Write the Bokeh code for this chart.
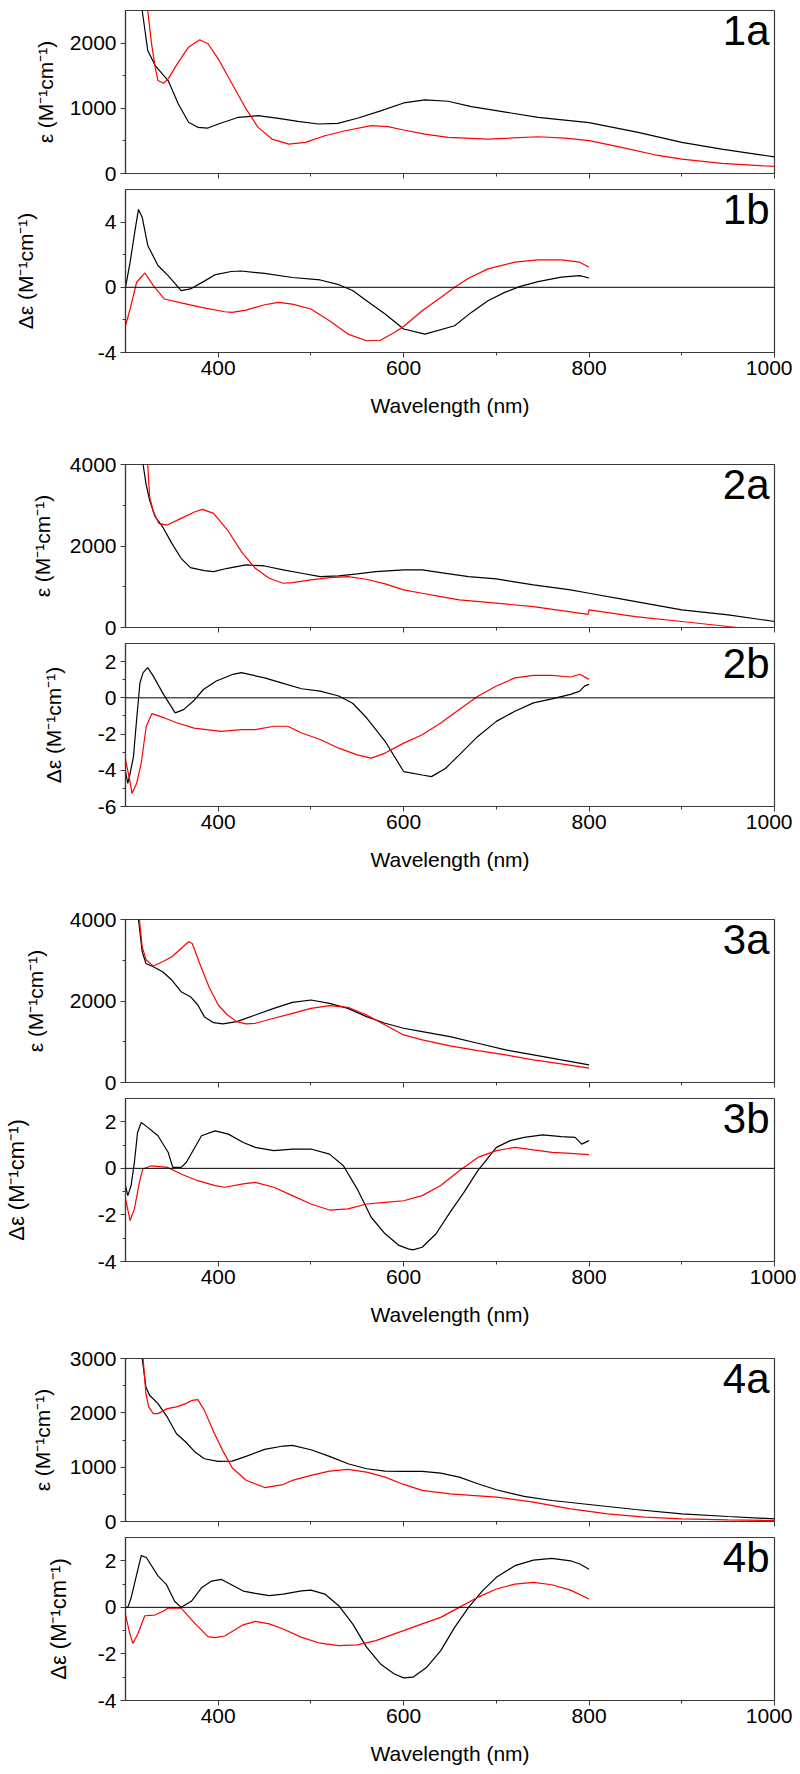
from bokeh.plotting import figure
from bokeh.layouts import column
from bokeh.models import FixedTicker, Span, Label, Range1d
from bokeh.embed import file_html
from bokeh.resources import INLINE

# ---------------- data (wavelength in nm) ----------------
wl_1a_black = [308, 313, 318, 324, 332, 346, 357, 368, 378, 389, 400, 422, 443, 465, 486, 508, 529, 551, 576, 600, 623, 648, 673, 700, 745, 800, 853, 900, 943, 1000]
eps_1a_black = [3800, 3000, 2500, 1887, 1656, 1425, 1067, 785, 708, 697, 759, 862, 887, 846, 800, 759, 769, 851, 964, 1082, 1128, 1108, 1026, 964, 862, 779, 631, 477, 374, 256]
wl_1a_red = [316, 320, 324, 328, 332, 335, 341, 346, 357, 368, 380, 389, 400, 414, 429, 443, 458, 476, 494, 515, 537, 565, 583, 600, 623, 648, 691, 745, 774, 800, 835, 871, 900, 943, 1000]
eps_1a_red = [4000, 3100, 2500, 2000, 1631, 1426, 1385, 1451, 1708, 1938, 2051, 1990, 1759, 1400, 1015, 708, 528, 451, 477, 579, 656, 733, 718, 667, 605, 554, 528, 564, 544, 503, 400, 287, 221, 154, 108]

wl_1b_black = [300, 305, 310, 314, 318, 324, 335, 346, 360, 370, 386, 396, 414, 425, 450, 480, 510, 530, 545, 560, 580, 600, 623, 655, 673, 691, 709, 725, 745, 770, 790, 800]
deps_1b_black = [0.0, 1.54, 3.4, 4.78, 4.3, 2.57, 1.34, 0.72, -0.2, -0.1, 0.41, 0.76, 0.97, 1.0, 0.85, 0.6, 0.45, 0.16, -0.2, -0.82, -1.64, -2.56, -2.87, -2.36, -1.54, -0.82, -0.31, 0.04, 0.35, 0.62, 0.72, 0.57]
wl_1b_red = [300, 305, 312, 321, 330, 342, 360, 382, 407, 415, 430, 450, 465, 480, 500, 520, 540, 560, 575, 590, 600, 620, 640, 655, 670, 691, 720, 745, 770, 790, 800]
deps_1b_red = [-2.36, -1.33, 0.31, 0.88, 0.1, -0.72, -0.96, -1.23, -1.5, -1.54, -1.4, -1.07, -0.92, -1.03, -1.33, -2.05, -2.87, -3.28, -3.25, -2.77, -2.4, -1.44, -0.62, 0.0, 0.55, 1.13, 1.54, 1.68, 1.68, 1.54, 1.23]

wl_2a_black = [316, 319, 322, 326, 332, 340, 350, 360, 370, 385, 395, 410, 430, 450, 470, 490, 510, 530, 550, 570, 600, 620, 640, 670, 700, 740, 780, 800, 840, 870, 900, 950, 1000]
eps_2a_black = [4600, 4000, 3535, 3126, 2718, 2473, 2065, 1698, 1469, 1396, 1371, 1453, 1535, 1510, 1412, 1331, 1249, 1265, 1314, 1371, 1412, 1412, 1347, 1249, 1192, 1045, 922, 841, 678, 555, 433, 310, 147]
wl_2a_red = [321, 324, 326, 330, 336, 345, 360, 375, 383, 395, 410, 425, 440, 455, 470, 480, 500, 520, 540, 560, 580, 600, 620, 640, 660, 700, 740, 799, 800, 850, 900, 950, 960, 1000]
eps_2a_red = [4700, 4000, 3208, 2841, 2555, 2514, 2678, 2841, 2898, 2800, 2392, 1861, 1453, 1208, 1086, 1102, 1167, 1224, 1249, 1184, 1069, 922, 841, 759, 678, 596, 514, 320, 433, 269, 147, 24, 0, 0]

wl_2b_black = [300, 302.5, 305, 308.6, 312, 315.6, 319, 324, 330, 341, 353.6, 362.6, 373, 384, 398, 416, 425, 450, 470, 490, 510, 530, 545, 560, 580, 600, 620, 630, 645, 660, 680, 700, 720, 740, 760, 780, 790, 795, 800]
deps_2b_black = [-4.07, -4.72, -4.17, -3.24, -1.2, 0.83, 1.39, 1.67, 1.2, 0.19, -0.83, -0.65, -0.19, 0.46, 0.93, 1.3, 1.39, 1.1, 0.8, 0.5, 0.37, 0.1, -0.3, -1.1, -2.4, -4.07, -4.26, -4.35, -3.9, -3.15, -2.13, -1.3, -0.74, -0.28, -0.06, 0.19, 0.37, 0.65, 0.74]
wl_2b_red = [300, 304.6, 307, 312, 317, 322.4, 328.5, 342, 356, 374, 403, 425, 440, 460, 475, 490, 510, 530, 550, 565, 580, 600, 620, 640, 660, 680, 700, 720, 740, 760, 780, 790, 800]
deps_2b_red = [-3.43, -4.54, -5.28, -4.72, -3.6, -1.57, -0.87, -1.11, -1.39, -1.67, -1.85, -1.76, -1.76, -1.57, -1.57, -1.94, -2.3, -2.78, -3.15, -3.33, -3.05, -2.5, -2.04, -1.39, -0.65, 0.09, 0.65, 1.1, 1.24, 1.24, 1.15, 1.3, 1.02]

wl_3a_black = [312, 314, 318, 322, 330, 340, 350, 360, 370, 378, 385, 395, 405, 420, 440, 460, 480, 500, 520, 540, 560, 580, 600, 620, 650, 680, 710, 740, 770, 800]
eps_3a_black = [4600, 4000, 3208, 2922, 2841, 2718, 2514, 2229, 2106, 1902, 1616, 1469, 1437, 1494, 1657, 1820, 1967, 2024, 1943, 1820, 1616, 1453, 1331, 1249, 1127, 963, 800, 678, 555, 433]
wl_3a_red = [313, 315, 318, 322, 330, 340, 350, 360, 368, 372, 380, 390, 400, 410, 420, 430, 440, 460, 480, 500, 520, 540, 560, 580, 600, 620, 650, 680, 710, 740, 770, 800]
eps_3a_red = [4600, 4000, 3331, 3020, 2857, 2963, 3086, 3290, 3453, 3412, 2922, 2351, 1902, 1657, 1494, 1437, 1453, 1576, 1698, 1820, 1886, 1845, 1657, 1412, 1167, 1045, 898, 784, 678, 555, 457, 351]

wl_3b_black = [300, 302.5, 306, 309.6, 313, 317, 324, 335, 346, 351, 360, 365.7, 382, 396.6, 411, 427, 440, 460, 480, 500, 520, 535, 550, 565, 580, 595, 605, 610, 620, 635, 650, 665, 680, 690, 700, 715, 730, 750, 770, 785, 792, 800]
deps_3b_black = [-0.74, -1.17, -0.74, 0.26, 1.54, 1.97, 1.76, 1.4, 0.69, 0.04, 0.04, 0.26, 1.4, 1.61, 1.47, 1.11, 0.9, 0.76, 0.83, 0.83, 0.61, 0.11, -0.89, -2.1, -2.81, -3.31, -3.46, -3.5, -3.39, -2.81, -1.89, -1.03, -0.1, 0.4, 0.9, 1.19, 1.33, 1.44, 1.36, 1.33, 1.04, 1.19]
wl_3b_red = [300, 305, 309.6, 315, 318.6, 327.7, 345.6, 360, 378, 396.6, 407, 427, 440, 460, 480, 500, 520, 540, 560, 580, 600, 620, 640, 660, 680, 700, 720, 740, 760, 780, 800]
deps_3b_red = [-1.31, -2.24, -1.74, -0.6, -0.03, 0.11, 0.04, -0.24, -0.53, -0.74, -0.81, -0.67, -0.6, -0.81, -1.17, -1.53, -1.79, -1.74, -1.53, -1.46, -1.39, -1.17, -0.74, -0.1, 0.47, 0.76, 0.9, 0.79, 0.69, 0.64, 0.59]

wl_4a_black = [314, 318, 322, 326, 335, 345, 355, 365, 375, 385, 400, 415, 430, 450, 470, 480, 500, 520, 540, 560, 580, 600, 620, 640, 660, 680, 700, 730, 760, 800, 850, 900, 950, 1000]
eps_4a_black = [3600, 3000, 2477, 2323, 2170, 1924, 1616, 1463, 1278, 1155, 1106, 1112, 1198, 1328, 1389, 1401, 1321, 1198, 1063, 971, 928, 922, 922, 891, 817, 694, 584, 461, 387, 313, 221, 141, 92, 49]
wl_4a_red = [316, 319, 322, 325, 330, 335, 345, 355, 365, 372, 378, 385, 395, 405, 415, 430, 450, 470, 480, 500, 520, 540, 560, 580, 600, 620, 650, 700, 740, 780, 820, 860, 900, 950, 1000]
eps_4a_red = [3600, 3000, 2354, 2108, 1985, 1985, 2077, 2110, 2170, 2230, 2243, 2050, 1650, 1300, 990, 760, 625, 680, 756, 848, 928, 959, 910, 817, 682, 572, 510, 449, 356, 234, 141, 80, 49, 31, 18]

wl_4b_black = [300, 302.5, 306, 311.7, 317, 322.5, 335, 344, 353, 360, 371, 382, 392.8, 403.6, 427, 440, 455, 470, 490, 500, 515, 530, 545, 560, 575, 590, 600, 610, 625, 640, 655, 670, 685, 700, 720, 740, 760, 780, 790, 800]
deps_4b_black = [0.0, 0.0, 0.4, 1.35, 2.22, 2.14, 1.35, 0.99, 0.26, 0.0, 0.26, 0.84, 1.13, 1.2, 0.7, 0.6, 0.5, 0.57, 0.71, 0.74, 0.57, 0.07, -0.71, -1.71, -2.43, -2.86, -3.03, -3.0, -2.57, -1.86, -0.86, 0.0, 0.71, 1.29, 1.79, 2.03, 2.1, 2.0, 1.86, 1.64]
wl_4b_red = [300, 304.6, 308, 313.5, 320.8, 331.6, 340.6, 346, 360, 374.5, 389, 396.6, 407, 427, 440, 455, 470, 490, 510, 530, 550, 570, 590, 600, 620, 640, 660, 680, 700, 720, 740, 760, 780, 800]
deps_4b_red = [-0.32, -1.12, -1.55, -1.12, -0.36, -0.33, -0.17, -0.03, -0.03, -0.68, -1.26, -1.3, -1.23, -0.75, -0.6, -0.71, -0.93, -1.29, -1.54, -1.64, -1.61, -1.43, -1.14, -1.0, -0.71, -0.43, 0.0, 0.43, 0.79, 1.0, 1.07, 0.97, 0.74, 0.36]

x_major_ticks = [400, 600, 800, 1000]
x_minor_ticks = [500, 700, 900]
panel_tags = ["1a", "1b", "2a", "2b", "3a", "3b", "4a", "4b"]
label_abs = "ε (M⁻¹cm⁻¹)"
label_cd = "Δε (M⁻¹cm⁻¹)"
x_label = "Wavelength (nm)"

FONT = "Liberation Sans"
FRAME_COLOR = "#3a3a3a"


def make_panel(tag, black, red, yr, yticks, yminor, ylabel, is_b,
               top_b, bot_b, lab_standoff, lab_size="21px"):
    p = figure(frame_width=649, frame_height=163,
               x_range=Range1d(300, 1000), y_range=Range1d(*yr),
               output_backend="svg", toolbar_location=None,
               min_border_left=121, min_border_right=22,
               min_border_top=top_b, min_border_bottom=bot_b)
    p.xgrid.visible = False
    p.ygrid.visible = False
    p.outline_line_color = FRAME_COLOR
    p.outline_line_width = 1.2
    p.background_fill_color = "white"
    p.border_fill_color = "white"

    for ax in (p.xaxis[0], p.yaxis[0]):
        ax.axis_line_color = FRAME_COLOR
        ax.axis_line_width = 1.2
        ax.major_tick_line_color = FRAME_COLOR
        ax.minor_tick_line_color = FRAME_COLOR
        ax.major_tick_in = 0
        ax.major_tick_out = 5
        ax.minor_tick_in = 0
        ax.minor_tick_out = 3
        ax.major_label_text_font = FONT
        ax.major_label_text_font_size = "21px"
        ax.major_label_text_color = "black"
        ax.axis_label_text_font = FONT
        ax.axis_label_text_font_style = "normal"
        ax.axis_label_text_color = "black"

    xa = p.xaxis[0]
    xa.ticker = FixedTicker(ticks=x_major_ticks, minor_ticks=x_minor_ticks)
    if is_b:
        xa.major_label_standoff = 3
        xa.axis_label = x_label
        xa.axis_label_text_font_size = "21px"
        xa.axis_label_standoff = 16
    else:
        xa.major_label_text_font_size = "0px"
        xa.major_label_standoff = 0
        xa.major_label_overrides = {t: "" for t in x_major_ticks}

    ya = p.yaxis[0]
    ya.ticker = FixedTicker(ticks=yticks, minor_ticks=yminor)
    ya.major_label_standoff = 4
    ya.axis_label = ylabel
    ya.axis_label_text_font_size = lab_size
    ya.axis_label_standoff = lab_standoff
    ya.major_label_overrides = {t: str(t) for t in yticks}

    if is_b:
        p.add_layout(Span(location=0, dimension="width", line_color="black", line_width=1))

    p.line(black[0], black[1], line_color="black", line_width=1.2)
    p.line(red[0], red[1], line_color="#ff0000", line_width=1.2)

    p.add_layout(Label(x=1000, y=yr[1], x_offset=-5, y_offset=4, text=tag,
                       text_align="right", text_baseline="top",
                       text_font=FONT, text_font_size="42px", text_color="black"))
    return p


panels = [
    make_panel("1a", (wl_1a_black, eps_1a_black), (wl_1a_red, eps_1a_red), (0, 2500),
               [0, 1000, 2000], [500, 1500], label_abs, False, 10, 10, 10),
    make_panel("1b", (wl_1b_black, deps_1b_black), (wl_1b_red, deps_1b_red), (-4, 6),
               [-4, 0, 4], [-2, 2], label_cd, True, 6, 98, 58),
    make_panel("2a", (wl_2a_black, eps_2a_black), (wl_2a_red, eps_2a_red), (0, 4000),
               [0, 2000, 4000], [1000, 3000], label_abs, False, 14, 10, 13),
    make_panel("2b", (wl_2b_black, deps_2b_black), (wl_2b_red, deps_2b_red), (-6, 3),
               [-6, -4, -2, 0, 2], [-5, -3, -1, 1], label_cd, True, 6, 99, 30),
    make_panel("3a", (wl_3a_black, eps_3a_black), (wl_3a_red, eps_3a_red), (0, 4000),
               [0, 2000, 4000], [1000, 3000], label_abs, False, 14, 10, 20),
    make_panel("3b", (wl_3b_black, deps_3b_black), (wl_3b_red, deps_3b_red), (-4, 3),
               [-4, -2, 0, 2], [-3, -1, 1], label_cd, True, 6, 83, 66, "22px"),
    make_panel("4a", (wl_4a_black, eps_4a_black), (wl_4a_red, eps_4a_red), (0, 3000),
               [0, 1000, 2000, 3000], [500, 1500, 2500], label_abs, False, 14, 10, 13),
    make_panel("4b", (wl_4b_black, deps_4b_black), (wl_4b_red, deps_4b_red), (-4, 3),
               [-4, -2, 0, 2], [-3, -1, 1], label_cd, True, 6, 66, 24, "22px"),
]

layout = column(*panels, spacing=0)
open("out.html", "w").write(file_html(layout, INLINE))
